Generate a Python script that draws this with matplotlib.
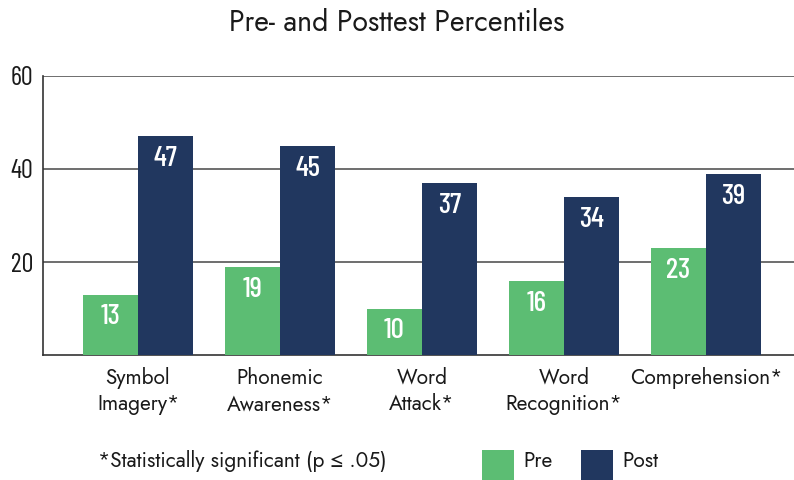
import matplotlib
matplotlib.use("Agg")
import matplotlib.pyplot as plt
import numpy as np
from matplotlib.patches import Rectangle

categories = ["Symbol\nImagery*", "Phonemic\nAwareness*", "Word\nAttack*", "Word\nRecognition*", "Comprehension*"]
pre_values = [13, 19, 10, 16, 23]
post_values = [47, 45, 37, 34, 39]
y_ticks = [20, 40, 60]
title = "Pre- and Posttest Percentiles"
footnote = "*Statistically significant (p \u2264 .05)"
series_names = ["Pre", "Post"]

GREEN = "#5cbd73"
NAVY = "#21375f"
TXT = "#1a1a1a"
num_font = ["Barlow Condensed", "DejaVu Sans"]
main_font = ["Jost", "DejaVu Sans"]

fig = plt.figure(figsize=(7.94, 4.8), dpi=100)
ax = fig.add_axes([0.054, 0.2604, 0.946, 0.5813])

x = np.arange(len(categories))
w = 0.39
b1 = ax.bar(x - w / 2, pre_values, w, color=GREEN, zorder=3)
b2 = ax.bar(x + w / 2, post_values, w, color=NAVY, zorder=3)

for bars, vals in ((b1, pre_values), (b2, post_values)):
    for r, v in zip(bars, vals):
        ax.annotate(str(v), (r.get_x() + r.get_width() / 2, v), xytext=(0, -16.5),
                    textcoords="offset points", ha="center", va="center",
                    color="white", fontsize=21, fontweight=500, fontfamily=num_font, zorder=4)

ax.set_xlim(-0.67, 4.62)
ax.set_ylim(0, 60)
ax.set_yticks(y_ticks)
ax.set_yticklabels([str(t) for t in y_ticks], fontsize=19, fontfamily=num_font, color=TXT)
ax.grid(axis="y", color="#555555", linewidth=1.2, zorder=0)
ax.tick_params(axis="y", length=0, pad=7)
ax.tick_params(axis="x", length=0, pad=8.5)
ax.set_xticks(x)
ax.set_xticklabels(categories, fontsize=15, fontfamily=main_font, color=TXT, linespacing=1.25)
for s in ("top", "right"):
    ax.spines[s].set_visible(False)
ax.spines["left"].set_color("#333333")
ax.spines["bottom"].set_color("#333333")
ax.spines["left"].set_linewidth(1.2)
ax.spines["bottom"].set_linewidth(1.2)

fig.text(0.5, 0.952, title, ha="center", va="center", fontsize=20.5, fontfamily=main_font, color=TXT)
fig.text(0.123, 0.04, footnote, ha="left", va="center", fontsize=15, fontfamily=main_font, color=TXT)

# legend
for i, (name, col) in enumerate(zip(series_names, [GREEN, NAVY])):
    x0 = 482 + i * 99
    fig.patches.append(Rectangle((x0 / 794, 0.0), 32 / 794, 30 / 480, transform=fig.transFigure,
                                 facecolor=col, edgecolor="none"))
    fig.text((x0 + 41) / 794, 0.04, name, ha="left", va="center", fontsize=15,
             fontfamily=main_font, color=TXT)

fig.savefig("out.png", dpi=100)
